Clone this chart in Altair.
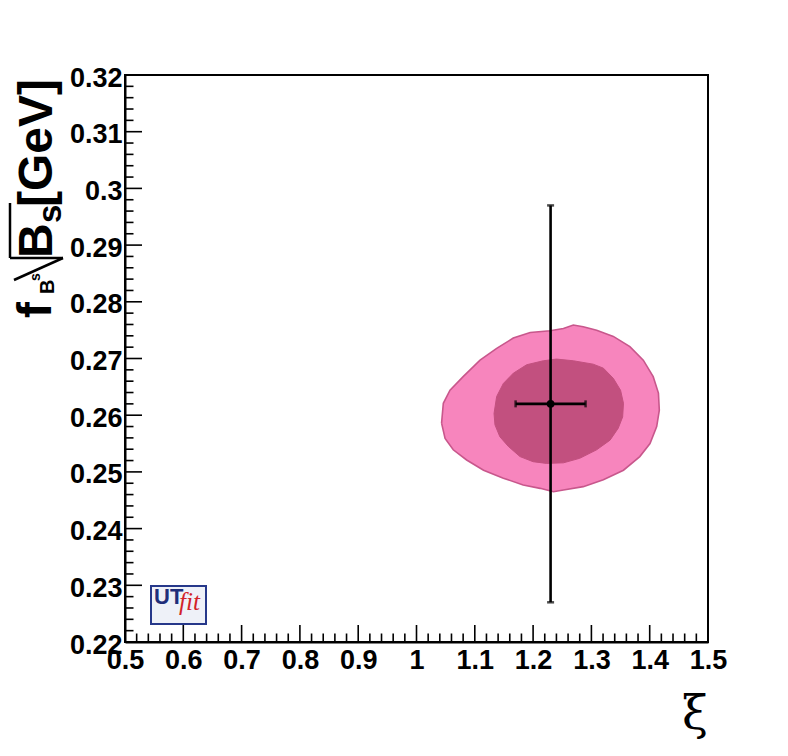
import altair as alt
import pandas as pd

# ---------------- data ----------------
# outer (95%) contour, clockwise from the left edge
OUT_XI = [1.043, 1.046, 1.0575, 1.080, 1.109, 1.1375, 1.166, 1.195, 1.229, 1.252,
          1.269, 1.286, 1.309, 1.3376, 1.366, 1.389, 1.406, 1.415, 1.4165, 1.412,
          1.4005, 1.383, 1.355, 1.3205, 1.286, 1.252, 1.235, 1.212, 1.183, 1.149,
          1.115, 1.086, 1.063, 1.049]
OUT_F = [0.2586, 0.2621, 0.2644, 0.2668, 0.2697, 0.2718, 0.2736, 0.2746, 0.2749, 0.2753,
         0.2759, 0.2756, 0.2750, 0.2739, 0.2721, 0.2697, 0.2668, 0.2639, 0.2609, 0.2580,
         0.2550, 0.2527, 0.2503, 0.2486, 0.2474, 0.2468, 0.2465, 0.2471, 0.2477, 0.2489,
         0.2503, 0.2521, 0.2539, 0.2559]
# inner (68%) contour
IN_XI = [1.133, 1.1375, 1.149, 1.166, 1.189, 1.2175, 1.240, 1.269, 1.303, 1.3205,
         1.3376, 1.350, 1.355, 1.3536, 1.346, 1.332, 1.309, 1.280, 1.252, 1.223,
         1.200, 1.1775, 1.1575, 1.143, 1.1346]
IN_F = [0.2603, 0.2633, 0.2656, 0.2674, 0.2689, 0.2696, 0.2699, 0.2696, 0.2690, 0.2683,
        0.2665, 0.2644, 0.2621, 0.2597, 0.2577, 0.2556, 0.2539, 0.2524, 0.2516, 0.2515,
        0.2518, 0.2527, 0.2545, 0.2562, 0.2583]

# measurement with error bars
XI_C = [1.23]
F_C = [0.262]
XI_LO = [1.17]
XI_HI = [1.29]
F_LO = [0.227]
F_HI = [0.297]

# axis ticks
X_TICKS = [0.5, 0.6, 0.7, 0.8, 0.9, 1.0, 1.1, 1.2, 1.3, 1.4, 1.5]
Y_TICKS = [0.22, 0.23, 0.24, 0.25, 0.26, 0.27, 0.28, 0.29, 0.30, 0.31, 0.32]
N_SUB = 5

W, H = 583, 567
LABEL_FONT = "Liberation Sans"

xscale = alt.Scale(domain=[0.5, 1.5], nice=False, zero=False)
yscale = alt.Scale(domain=[0.22, 0.32], nice=False, zero=False)

xaxis = alt.Axis(values=X_TICKS, format=".1~f", labelFont=LABEL_FONT, labelFontSize=27,
                 labelFontWeight="bold", labelColor="black", ticks=False, domain=True,
                 domainColor="black", domainWidth=2, grid=False, title=None,
                 labelPadding=5, labelFlush=False, labelOverlap=False, labelBound=False)
yaxis = alt.Axis(values=Y_TICKS, format=".2~f", labelFont=LABEL_FONT, labelFontSize=27,
                 labelFontWeight="bold", labelColor="black", ticks=False, domain=True,
                 domainColor="black", domainWidth=2, grid=False, title=None,
                 labelPadding=3, labelFlush=False, labelOverlap=False, labelBound=False,
                 labelOffset=3)


def X(field):
    return alt.X(field, type="quantitative", scale=xscale, axis=xaxis)


def Y(field):
    return alt.Y(field, type="quantitative", scale=yscale, axis=yaxis)


def polygon(xs, ys):
    rows = [{"xi": a, "f": b, "i": k} for k, (a, b) in enumerate(zip(xs, ys))]
    rows.append({"xi": xs[0], "f": ys[0], "i": len(xs)})
    return pd.DataFrame(rows)


outer = alt.Chart(polygon(OUT_XI, OUT_F)).mark_line(
    fill="#F785BD", stroke="#C8578C", strokeWidth=1.6, interpolate="linear"
).encode(x=X("xi"), y=Y("f"), order=alt.Order("i:Q"))

inner = alt.Chart(polygon(IN_XI, IN_F)).mark_line(
    fill="#C2507F", stroke="#C2507F", strokeWidth=1, interpolate="linear"
).encode(x=X("xi"), y=Y("f"), order=alt.Order("i:Q"))

err = pd.DataFrame({"xi": XI_C, "f": F_C, "xlo": XI_LO, "xhi": XI_HI,
                    "flo": F_LO, "fhi": F_HI})
vbar = alt.Chart(err).mark_rule(color="black", strokeWidth=2.6).encode(
    x=X("xi"), y=Y("flo"), y2="fhi")
hbar = alt.Chart(err).mark_rule(color="black", strokeWidth=2.6).encode(
    x=X("xlo"), x2="xhi", y=Y("f"))
vcaps = alt.Chart(pd.DataFrame({"xi": XI_C * 2, "f": F_LO + F_HI})).mark_tick(
    orient="horizontal", size=7, thickness=2.5, color="black").encode(x=X("xi"), y=Y("f"))
hcaps = alt.Chart(pd.DataFrame({"xi": XI_LO + XI_HI, "f": F_C * 2})).mark_tick(
    orient="vertical", size=7, thickness=2.5, color="black").encode(x=X("xi"), y=Y("f"))
center = alt.Chart(err).mark_point(filled=True, color="black", size=60, opacity=1).encode(
    x=X("xi"), y=Y("f"))


def subdivide(ticks):
    out = []
    for a, b in zip(ticks[:-1], ticks[1:]):
        step = (b - a) / N_SUB
        out += [a + step * k for k in range(1, N_SUB)]
    return out


xmaj = alt.Chart(pd.DataFrame({"v": X_TICKS})).mark_rule(color="black", strokeWidth=1.6).encode(
    x=X("v"), y=alt.value(H), y2=alt.value(H - 17))
xmin = alt.Chart(pd.DataFrame({"v": subdivide(X_TICKS)})).mark_rule(color="black", strokeWidth=1.6).encode(
    x=X("v"), y=alt.value(H), y2=alt.value(H - 8.5))
ymaj = alt.Chart(pd.DataFrame({"v": Y_TICKS})).mark_rule(color="black", strokeWidth=1.6).encode(
    y=Y("v"), x=alt.value(0), x2=alt.value(17))
ymin = alt.Chart(pd.DataFrame({"v": subdivide(Y_TICKS)})).mark_rule(color="black", strokeWidth=1.6).encode(
    y=Y("v"), x=alt.value(0), x2=alt.value(8.5))

one = alt.Data(values=[{}])


def txt(s, x, y, size, font=LABEL_FONT, weight="bold", angle=270, color="black",
        align="left", baseline="alphabetic", style="normal"):
    return alt.Chart(one).mark_text(
        text=s, font=font, fontSize=size, fontWeight=weight, angle=angle, color=color,
        align=align, baseline=baseline, fontStyle=style
    ).encode(x=alt.value(x), y=alt.value(y))


def seg(x1, y1, x2, y2, w=2.5):
    return alt.Chart(one).mark_rule(color="black", strokeWidth=w).encode(
        x=alt.value(x1), y=alt.value(y1), x2=alt.value(x2), y2=alt.value(y2))


ytitle = [
    txt("f", -74, 243, 48),
    txt("B", -71, 219, 20),
    txt("s", -85, 206, 14),
    txt("B", -73, 183, 48),
    txt("s", -64, 148, 33),
    txt("[GeV]", -73, 132, 48),
    seg(-111, 205, -62, 183),
    seg(-62, 183, -115, 183),
    seg(-115, 183, -115, 128),
]

xtitle = txt("ξ", W, 654, 47, font="DejaVu Serif", weight="normal", angle=0, align="right")

logo_box = alt.Chart(one).mark_rect(fill="#EEF1F8", stroke="#26388A", strokeWidth=2).encode(
    x=alt.value(26), x2=alt.value(81), y=alt.value(511), y2=alt.value(549))
logo_ut = txt("UT", 29, 529, 22, font="Liberation Sans Narrow, Liberation Sans",
              angle=0, color="#1F2E7A")
logo_fit = txt("fit", 54, 535, 25, font="Liberation Serif", weight="normal", angle=0,
               color="#D2232A", style="italic")

chart = alt.layer(
    outer, inner, vbar, hbar, vcaps, hcaps, center,
    xmaj, xmin, ymaj, ymin,
    *ytitle, xtitle, logo_box, logo_ut, logo_fit
).properties(
    width=W, height=H,
    autosize=alt.AutoSizeParams(type="none"),
    padding={"left": 117, "top": 67, "right": 72, "bottom": 106},
    background="white",
).configure_view(stroke="black", strokeWidth=2)

chart.save("out.html", embed_options={"renderer": "svg", "actions": False})
